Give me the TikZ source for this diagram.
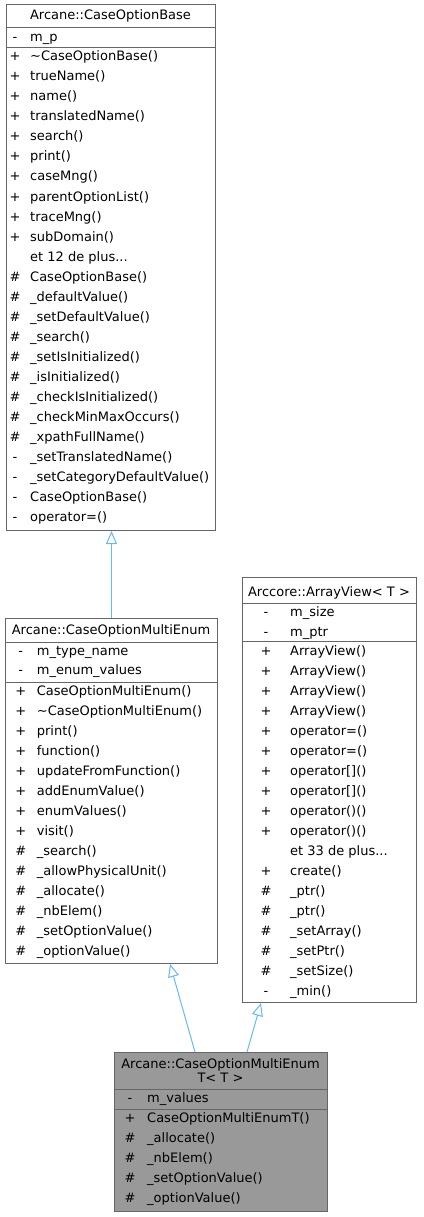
\documentclass[tikz,border=0pt]{standalone}
\usepackage{fontspec}
\setmainfont{DejaVu Sans}
\usetikzlibrary{arrows.meta,calc}
\definecolor{bord}{HTML}{666666}
\definecolor{edgec}{HTML}{63B8FF}
\definecolor{hl}{HTML}{999999}
\newcommand\threedots{...}
\newcommand\classrows[5]{%
  \foreach \s/\t [count=\i from 0] in {#4} {
    \node[sym] (#5s\i) at (#1, #3+20*\i) {\s};
    \node[row] (#5t\i) at (#2, #3+20*\i) {\t};
  }}
\begin{document}
\begin{tikzpicture}[x=1pt,y=-1pt, font=\fontsize{13}{15}\selectfont,
  cls/.style={draw=bord, line width=1pt, inner sep=0, anchor=north west, rectangle},
  row/.style={inner sep=0, text height=8pt, text depth=0pt, anchor=west},
  sym/.style={inner sep=0, text height=8pt, text depth=0pt},
  ttl/.style={inner sep=0, text height=8pt, text depth=0pt},
  sep/.style={draw=bord, line width=1pt},
  inh/.style={draw=edgec, line width=1pt, -{Triangle[open, length=13pt, width=11pt]}}]
\useasboundingbox (0,0) rectangle (423,1217);

% ---- Arcane::CaseOptionBase
\node[cls, minimum width=209pt, minimum height=526pt] (base) at (6,4) {};
\node[ttl] (baset) at (110.5,16) {Arcane::CaseOptionBase};
\draw[sep] (6,28) -- (215,28);
\draw[sep] (6,48) -- (215,48);
\classrows{15}{30}{38}{-/m\_p}{ba}
\classrows{15}{30}{57}{+/\textasciitilde CaseOptionBase(), +/trueName(), +/name(), +/translatedName(), +/search(), +/print(), +/caseMng(), +/parentOptionList(), +/traceMng(), +/subDomain(), {}/et 12 de plus\threedots, \#/CaseOptionBase(), \#/\_defaultValue(), \#/\_setDefaultValue(), \#/\_search(), \#/\_setIsInitialized(), \#/\_isInitialized(), \#/\_checkIsInitialized(), \#/\_checkMinMaxOccurs(), \#/\_xpathFullName(), -/\_setTranslatedName(), -/\_setCategoryDefaultValue(), -/CaseOptionBase(), -/operator=()}{bm}

% ---- Arcane::CaseOptionMultiEnum
\node[cls, minimum width=212pt, minimum height=345pt] (multi) at (5,618) {};
\node[ttl] (multit) at (111,630) {Arcane::CaseOptionMultiEnum};
\draw[sep] (5,642) -- (217,642);
\draw[sep] (5,682) -- (217,682);
\classrows{20.7}{36.7}{651}{-/m\_type\_name}{ma}
\classrows{20.7}{36.7}{670}{-/m\_enum\_values}{mb}
\classrows{20.7}{36.7}{691}{+/CaseOptionMultiEnum(), +/\textasciitilde CaseOptionMultiEnum(), +/print(), +/function(), +/updateFromFunction(), +/addEnumValue(), +/enumValues(), +/visit(), \#/\_search(), \#/\_allowPhysicalUnit(), \#/\_allocate(), \#/\_nbElem(), \#/\_setOptionValue(), \#/\_optionValue()}{mm}

% ---- Arccore::ArrayView< T >
\node[cls, minimum width=174pt, minimum height=425pt] (arr) at (242,577) {};
\node[ttl] (arrt) at (329,592) {Arccore::ArrayView< T >};
\draw[sep] (242,603) -- (416,603);
\draw[sep] (242,641) -- (416,641);
\classrows{266}{290}{612}{-/m\_size, -/m\_ptr}{aa}
\classrows{266}{290}{651}{+/ArrayView(), +/ArrayView(), +/ArrayView(), +/ArrayView(), +/operator=(), +/operator=(), +/operator[](), +/operator[](), +/operator()(), +/operator()(), {}/et 33 de plus\threedots, +/create(), \#/\_ptr(), \#/\_ptr(), \#/\_setArray(), \#/\_setPtr(), \#/\_setSize(), -/\_min()}{am}

% ---- Arcane::CaseOptionMultiEnumT< T >
\node[cls, fill=hl, minimum width=213pt, minimum height=159pt] (bot) at (114,1052) {};
\node[ttl] (bott1) at (220.5,1064) {Arcane::CaseOptionMultiEnum};
\node[ttl] (bott2) at (220.5,1078) {T< T >};
\draw[sep] (114,1089) -- (327,1089);
\draw[sep] (114,1109) -- (327,1109);
\classrows{130}{147}{1098}{-/m\_values}{ca}
\classrows{130}{147}{1118}{+/CaseOptionMultiEnumT(), \#/\_allocate(), \#/\_nbElem(), \#/\_setOptionValue(), \#/\_optionValue()}{cm}

% ---- inheritance
\draw[inh] (multi.north) -- (multi.north |- base.south);
\draw[inh] ([xshift=81pt]bot.north west) -- ([xshift=165pt]multi.south west);
\draw[inh] ([xshift=133pt]bot.north west) -- ([xshift=19pt]arr.south west);
\end{tikzpicture}
\end{document}
